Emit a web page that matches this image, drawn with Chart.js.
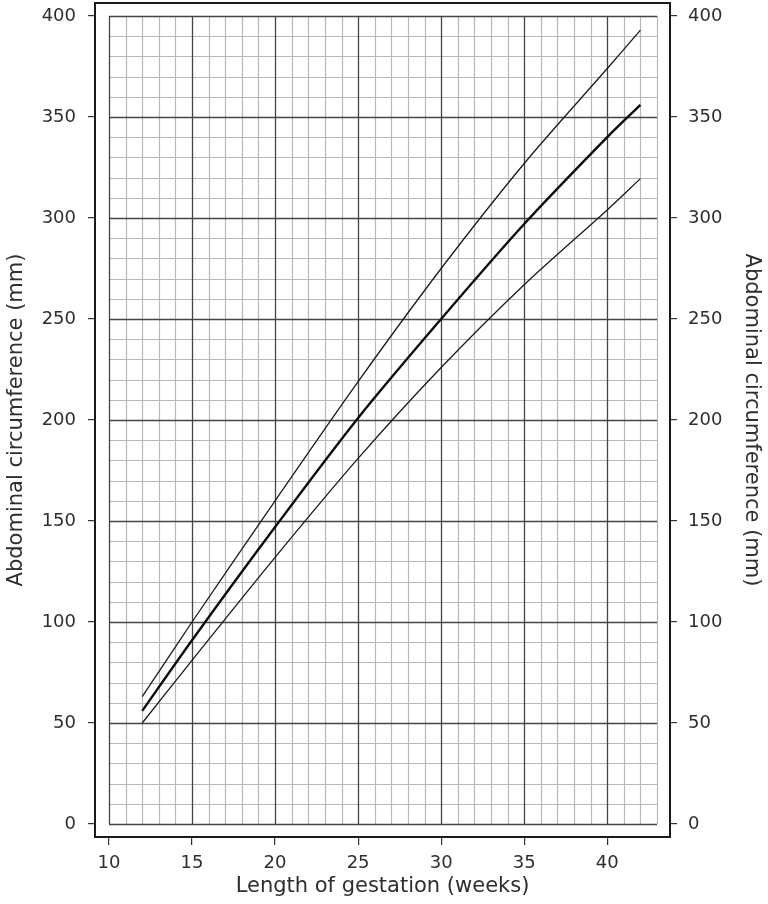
<!DOCTYPE html>
<html>
<head>
<meta charset="utf-8">
<script src="https://cdn.jsdelivr.net/npm/chart.js@4/dist/chart.umd.min.js"></script>
<style>
  html, body { margin: 0; padding: 0; background: #fff; }
  #wrap { width: 768px; height: 904px; }
</style>
</head>
<body>
<div id="wrap"><canvas id="chart"></canvas></div>
<script>
// Gestation weeks where the curves were read
const weeks = [12, 15, 20, 25, 30, 35, 40, 42];

// Abdominal circumference (mm)
const upper = [63, 100, 160, 219, 275, 327, 374, 393];
const median = [56, 91, 147, 201, 250, 297, 340, 356];
const lower = [50, 81, 132, 181, 226, 267, 304, 319.5];

// Tick labels
const xTicks = [10, 15, 20, 25, 30, 35, 40];
const yTicks = [0, 50, 100, 150, 200, 250, 300, 350, 400];

// Grid extent
const gridX = [10, 43];
const gridY = [0, 400];

const tickFont = { family: 'DejaVu Sans', size: 18 };
const titleFont = { family: 'DejaVu Sans', size: 21 };
const textColor = '#2e2e2e';

function points(ys) {
    return weeks.map((w, i) => ({ x: w, y: ys[i] }));
}

// Draws the fine grid and the frame box
const gridPlugin = {
    id: 'grid',
    beforeDatasetsDraw(chart) {
        const ctx = chart.ctx;
        const xs = chart.scales.x;
        const ys = chart.scales.y;
        const x0 = xs.getPixelForValue(gridX[0]), x1 = xs.getPixelForValue(gridX[1]);
        const y0 = ys.getPixelForValue(gridY[0]), y1 = ys.getPixelForValue(gridY[1]);
        ctx.save();
        // minor
        ctx.strokeStyle = '#b8b8b8';
        ctx.lineWidth = 1.2;
        ctx.beginPath();
        for (let v = gridX[0]; v <= gridX[1]; v++) {
            if (v % 5 === 0) continue;
            const px = Math.round(xs.getPixelForValue(v)) + 0.5;
            ctx.moveTo(px, y0); ctx.lineTo(px, y1);
        }
        for (let v = gridY[0]; v <= gridY[1]; v += 10) {
            if (v % 50 === 0) continue;
            const py = Math.round(ys.getPixelForValue(v)) + 0.5;
            ctx.moveTo(x0, py); ctx.lineTo(x1, py);
        }
        ctx.stroke();
        // major
        ctx.strokeStyle = '#454545';
        ctx.lineWidth = 1.3;
        ctx.beginPath();
        for (let v = gridX[0]; v <= gridX[1]; v += 5) {
            const px = Math.round(xs.getPixelForValue(v)) + 0.5;
            ctx.moveTo(px, y0); ctx.lineTo(px, y1);
        }
        for (let v = gridY[0]; v <= gridY[1]; v += 50) {
            const py = Math.round(ys.getPixelForValue(v)) + 0.5;
            ctx.moveTo(x0, py); ctx.lineTo(x1, py);
        }
        ctx.stroke();
        // frame
        const a = chart.chartArea;
        ctx.strokeStyle = '#1a1a1a';
        ctx.lineWidth = 2;
        ctx.strokeRect(a.left, a.top, a.right - a.left, a.bottom - a.top);
        ctx.restore();
    }
};

const yScale = (pos, width, pad) => ({
    type: 'linear',
    position: pos,
    min: -6.44,
    max: 406.44,
    afterBuildTicks: s => { s.ticks = yTicks.map(v => ({ value: v })); },
    afterFit: s => { s.width = width; s.paddingTop = 0; s.paddingBottom = 0; },
    grid: { drawOnChartArea: false, drawTicks: true, tickLength: 7, color: '#333', lineWidth: 1.2 },
    border: { display: false },
    ticks: { font: tickFont, color: textColor, padding: pad },
    title: {
        display: true,
        text: 'Abdominal circumference (mm)',
        font: titleFont,
        color: textColor,
        padding: { top: 4, bottom: 0 }
    }
});

const data = {
    datasets: [
        { label: 'Upper', data: points(upper), borderColor: '#1a1a1a', borderWidth: 1.3 },
        { label: 'Median', data: points(median), borderColor: '#0d0d0d', borderWidth: 2.4 },
        { label: 'Lower', data: points(lower), borderColor: '#1a1a1a', borderWidth: 1.3 }
    ]
};

const config = {
    type: 'line',
    data: data,
    options: {
        responsive: true,
        maintainAspectRatio: false,
        animation: false,
        layout: { padding: { top: 3, left: 0, right: 0, bottom: 0 } },
        elements: {
            point: { radius: 0 },
            line: { tension: 0.3, fill: false }
        },
        plugins: {
            legend: { display: false },
            tooltip: { enabled: false }
        },
        scales: {
            x: {
                type: 'linear',
                min: 9.157,
                max: 43.78,
                afterBuildTicks: s => { s.ticks = xTicks.map(v => ({ value: v })); },
                afterFit: s => { s.height = 67; s.paddingLeft = 0; s.paddingRight = 0; },
                grid: { drawOnChartArea: false, drawTicks: true, tickLength: 8, color: '#333', lineWidth: 1.2 },
                border: { display: false },
                ticks: { font: tickFont, color: textColor, padding: 8, maxRotation: 0 },
                title: {
                    display: true,
                    text: 'Length of gestation (weeks)',
                    font: titleFont,
                    color: textColor,
                    padding: { top: 0, bottom: 5 }
                }
            },
            y: yScale('left', 95, 12),
            y2: yScale('right', 98, 11)
        }
    },
    plugins: [gridPlugin]
};

const acChart = new Chart(document.getElementById('chart'), config);
</script>
</body>
</html>
